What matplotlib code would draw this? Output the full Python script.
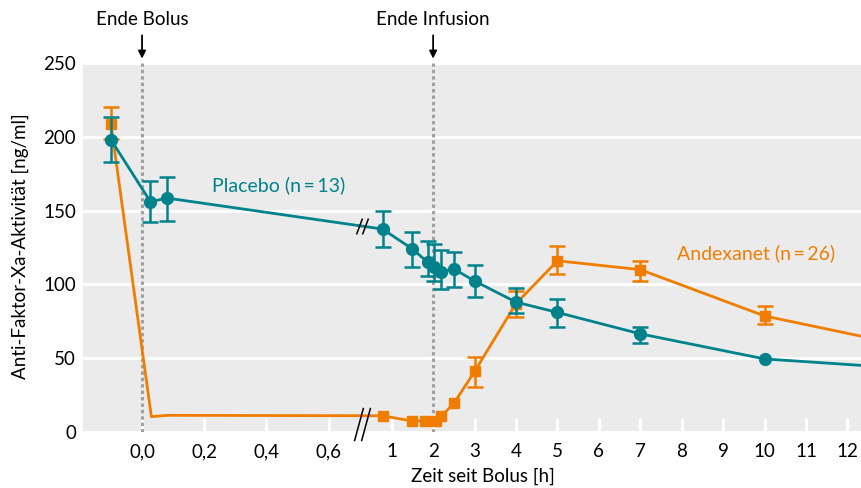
import numpy as np
import matplotlib
matplotlib.use("Agg")
import matplotlib.pyplot as plt
from matplotlib.path import Path
from matplotlib.transforms import blended_transform_factory

plt.rcParams['font.family'] = ['Lato', 'DejaVu Sans']

# data, time in hours
placebo_t = [-0.1, 0.027, 0.08, 0.78, 1.5, 1.87, 2.02, 2.2, 2.5, 3, 4, 5, 7, 10, 12.4]
placebo_v = [198, 156, 158.5, 137.5, 124, 115, 112, 108.5, 110.5, 102.3, 88, 81, 66.5, 49.5, 45]
placebo_lo = [183, 142, 143, 125.5, 112, 105.5, 102, 96.7, 98, 91.7, 80.4, 71.3, 60.5, np.nan, np.nan]
placebo_hi = [213.5, 170, 172.5, 149.5, 135.5, 129.5, 127.5, 123, 122, 113, 97.8, 90, 71.4, np.nan, np.nan]

andex_t = [-0.1, 0.03, 0.083, 0.78, 1.48, 1.8, 2.07, 2.2, 2.5, 3, 4, 5, 7, 10, 12.4]
andex_v = [208.5, 10.4, 11.3, 11, 7.5, 7.5, 7.5, 10.8, 19.4, 41, 87, 116, 110, 78.6, 64.5]
andex_lo = [198.7, np.nan, np.nan, np.nan, np.nan, np.nan, np.nan, np.nan, np.nan, 30.7, 78.1, 106.8, 102.5, 73.4, np.nan]
andex_hi = [220.4, np.nan, np.nan, np.nan, np.nan, np.nan, np.nan, np.nan, np.nan, 51, 95.7, 126, 116, 85.4, np.nan]

placebo_marks = [0, 1, 2, 3, 4, 5, 6, 7, 8, 9, 10, 11, 12, 13]
andex_marks = [0, 3, 4, 5, 6, 7, 8, 9, 10, 11, 12, 13]

xticks = [0, 0.2, 0.4, 0.6, 1, 2, 3, 4, 5, 6, 7, 8, 9, 10, 11, 12]
xticklabels = ['0,0', '0,2', '0,4', '0,6'] + [str(i) for i in range(1, 13)]
yticks = [0, 50, 100, 150, 200, 250]

teal = '#00828c'
orange = '#f07d00'

# broken time axis: minutes stretched on the left, hours on the right
S_LEFT, S_RIGHT, XB = 310.5, 41.4, 0.773


def fwd(x):
    x = np.asarray(x, dtype=float)
    return np.where(x <= XB, S_LEFT * x, S_LEFT * XB + (x - XB) * S_RIGHT)


def inv(u):
    u = np.asarray(u, dtype=float)
    return np.where(u <= S_LEFT * XB, u / S_LEFT, XB + (u - S_LEFT * XB) / S_RIGHT)


fig = plt.figure(figsize=(8.62, 4.88), dpi=100)
ax = fig.add_axes([83 / 862, 56 / 488, 779 / 862, 369 / 488])
ax.set_facecolor('#ebebeb')
ax.set_xscale('function', functions=(fwd, inv))
ax.set_xlim(-0.19, 12.35)
ax.set_ylim(0, 250)

for s in ax.spines.values():
    s.set_visible(False)
ax.set_axisbelow(True)
ax.yaxis.grid(True, color='white', lw=2.2)

ax.set_xticks(xticks)
ax.set_xticklabels(xticklabels)
ax.set_yticks(yticks)
ax.tick_params(axis='x', direction='in', color='white', length=10, width=2.2, pad=8, labelsize=13.5)
ax.tick_params(axis='y', length=0, pad=5, labelsize=13.5)
ax.minorticks_off()

# vertical markers
for xv in [0, 2]:
    ax.axvline(xv, color='#a0a0a0', lw=2.2, ls=(0, (1.1, 1.0)), zorder=1)

bt = blended_transform_factory(ax.transData, ax.transAxes)
for xv, lab in [(0, 'Ende Bolus'), (2, 'Ende Infusion')]:
    ax.annotate('', xy=(xv, 1.012), xytext=(xv, 1.075), xycoords=bt, textcoords=bt,
                arrowprops=dict(arrowstyle='-|>', color='black', lw=1.3, mutation_scale=11,
                                shrinkA=0, shrinkB=0), annotation_clip=False)
    ax.text(xv, 1.117, lab, transform=bt, ha='center', va='center', fontsize=13.5)

# series
ai = np.array(andex_marks)
pi = np.array(placebo_marks)
av, pv = np.array(andex_v), np.array(placebo_v)
ax.plot(andex_t, andex_v, color=orange, lw=2, zorder=3)
ax.errorbar(np.array(andex_t)[ai], av[ai],
            yerr=[av[ai] - np.array(andex_lo)[ai], np.array(andex_hi)[ai] - av[ai]],
            fmt='s', color=orange, ms=7.5, elinewidth=1.8, capsize=6, capthick=1.8, zorder=3)
ax.plot(placebo_t, placebo_v, color=teal, lw=2, zorder=4)
ax.errorbar(np.array(placebo_t)[pi], pv[pi],
            yerr=[pv[pi] - np.array(placebo_lo)[pi], np.array(placebo_hi)[pi] - pv[pi]],
            fmt='o', color=teal, ms=8.5, elinewidth=1.8, capsize=6, capthick=1.8, zorder=4)

# axis break marks
xbreak = 0.709
small = Path([(-6, -8), (0, 8), (0, -8), (6, 8)],
             [Path.MOVETO, Path.LINETO, Path.MOVETO, Path.LINETO])
big = Path([(-8, -16.5), (1, 16.5), (-1, -16.5), (8, 16.5)],
           [Path.MOVETO, Path.LINETO, Path.MOVETO, Path.LINETO])
yb = np.interp(fwd(xbreak), fwd([placebo_t[2], placebo_t[3]]), [placebo_v[2], placebo_v[3]])
ax.plot([xbreak], [yb], marker=small, ms=11.5, mfc='none', mec='black', mew=1.1, zorder=6)
ax.plot([xbreak], [0.023], transform=bt, marker=big, ms=24, mfc='none', mec='black',
        mew=1.1, zorder=6, clip_on=False)

ax.text(0.224, 167, 'Placebo (n\u2009=\u200913)', color=teal, fontsize=14, ha='left', va='center')
ax.text(7.88, 121.3, 'Andexanet (n\u2009=\u200926)', color=orange, fontsize=14, ha='left', va='center')

ax.set_xlabel('Zeit seit Bolus [h]', fontsize=13.5)
ax.set_ylabel('Anti-Faktor-Xa-Aktivität [ng/ml]', fontsize=13.5)
ax.xaxis.set_label_coords(0.513, -0.12)
ax.xaxis.label.set_va('center')
ax.yaxis.set_label_coords(-0.081, 0.503)
ax.yaxis.label.set_va('center')

fig.savefig('out.png', dpi=100)
